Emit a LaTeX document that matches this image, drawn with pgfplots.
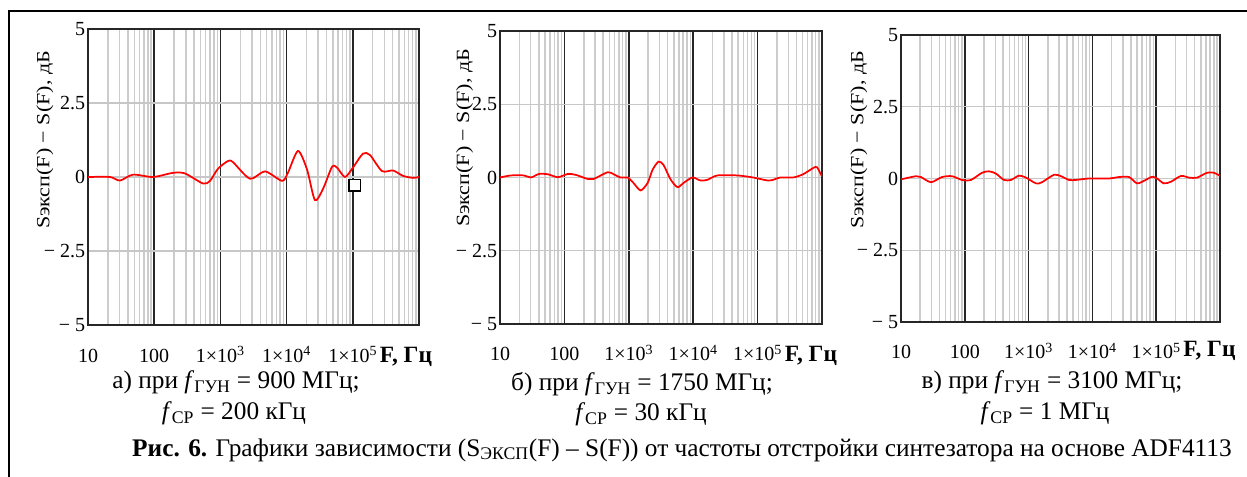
\documentclass[border=0pt]{standalone}
\usepackage{fontspec}
\setmainfont{Liberation Serif}
\usepackage{graphicx}
\usepackage{pgfplots}
\pgfplotsset{compat=1.18}
\pgfplotsset{
 mcadaxis/.style={
  scale only axis, xmin=10, xmax=1e6, ymin=-5, ymax=5,
  anchor=south west,
  xtick={10,100,1000,10000,100000},
  xticklabels={10,100,1×10\textsuperscript{3},1×10\textsuperscript{4},1×10\textsuperscript{5}},
  minor xtick={20,30,40,50,60,70,80,90,200,300,400,500,600,700,800,900,2000,3000,4000,5000,6000,7000,8000,9000,20000,30000,40000,50000,60000,70000,80000,90000,200000,300000,400000,500000,600000,700000,800000,900000},
  ytick={-5,-2.5,0,2.5,5},
  yticklabels={− 5,− 2.5,0,2.5,5},
  xmajorgrids, xminorgrids, ymajorgrids,
  major x grid style={black!85, line width=1.1pt},
  minor x grid style={black!20, line width=1.1pt},
  major y grid style={black!22, line width=1.1pt},
  axis line style={black!85, line width=1.1pt},
  major tick length=0pt, minor tick length=0pt,
  tick label style={font=\fontsize{15}{18}\selectfont},
  yticklabel style={inner sep=2pt},
  xticklabel style={anchor=base, yshift=-27.75pt},
 },
}
\tikzset{redcurve/.style={red, line width=1.3pt, smooth, tension=0.45}}
\begin{document}
\begin{tikzpicture}
\path[use as bounding box] (0pt,0pt) rectangle (935.25pt,-357.75pt);
\draw[black, line width=1.5pt] (6.75pt,-360pt) -- (6.75pt,-8.25pt) -- (937pt,-8.25pt);

% ---------- plot a
\begin{semilogxaxis}[mcadaxis, at={(66pt,-243.75pt)}, width=248.25pt, height=222pt]
\addplot[redcurve] coordinates {(10,0) (21.5,0) (30.4,-0.12) (47.9,0.08) (96,0) (192,0.14) (292,0.12) (546,-0.22) (697,-0.13) (920,0.28) (1303,0.54) (1550,0.5) (2800,-0.06) (4720,0.19) (8530,-0.13) (10500,0.15) (14860,0.88) (20300,0.26) (26800,-0.78) (35500,-0.4) (48500,0.34) (57700,0.32) (76200,0) (100700,0.32) (142600,0.79) (182000,0.74) (276000,0.2) (405000,0.22) (573000,0.04) (811000,-0.03) (1000000,0)};
\addplot[only marks, mark=square*, mark options={fill=white, draw=black, line width=1pt}, mark size=4.3pt] coordinates {(107000,-0.28)};
\end{semilogxaxis}

% ---------- plot b
\begin{semilogxaxis}[mcadaxis, at={(375pt,-243pt)}, width=241.5pt, height=219.75pt]
\addplot[redcurve] coordinates {(10,0) (14.8,0.07) (23.5,0.07) (30.2,0) (40.2,0.12) (55.3,0.11) (79.1,0.01) (113,0.12) (150,0.09) (230,-0.05) (285,-0.05) (470,0.18) (582,0.11) (747,0) (957,0) (1186,-0.19) (1523,-0.44) (1955,-0.19) (2336,0.26) (2890,0.54) (3456,0.43) (4440,-0.06) (5690,-0.33) (7050,-0.19) (9720,0) (12920,-0.1) (16600,-0.08) (23700,0.07) (48300,0.07) (85500,0) (141000,-0.1) (174000,-0.08) (224000,0) (356000,0) (508000,0.11) (726000,0.32) (837000,0.35) (1000000,0.03)};
\end{semilogxaxis}

% ---------- plot c
\begin{semilogxaxis}[mcadaxis, at={(675.75pt,-241.5pt)}, width=239.25pt, height=215.25pt]
\addplot[redcurve] coordinates {(10,-0.03) (17.2,0.08) (20.6,0.05) (29.5,-0.13) (43.9,0.05) (63,0.08) (90.4,-0.05) (125,-0.05) (186,0.2) (240,0.25) (308,0.17) (411,-0.05) (530,-0.05) (707,0.1) (911,0.03) (1306,-0.17) (1622,-0.13) (2500,0.13) (3220,0.08) (4300,-0.05) (5530,-0.05) (8850,0) (18200,0) (26100,0.05) (37500,0.05) (50000,-0.17) (64400,-0.08) (86000,0.06) (103000,0) (132000,-0.17) (171000,-0.11) (245000,0.09) (327000,0.03) (436000,0.03) (625000,0.2) (805000,0.2) (964000,0.11) (1000000,0.08)};
\end{semilogxaxis}

% y labels
\foreach \xx/\yy in {33.75pt/-105pt, 348.5pt/-103.5pt, 644.25pt/-105pt}
  \node[rotate=90, inner sep=0pt, font=\fontsize{14}{16}\selectfont] at (\xx,\yy) {\scalebox{1.18}[1]{Sэксп(F) − S(F), дБ}};

% x axis names
\node[anchor=base, inner sep=0pt, font=\fontsize{17.5}{20}\selectfont\bfseries] at (304.5pt,-272.25pt) {F, Гц};
\node[anchor=base, inner sep=0pt, font=\fontsize{17.5}{20}\selectfont\bfseries] at (608.25pt,-271.5pt) {F, Гц};
\node[anchor=base, inner sep=0pt, font=\fontsize{17.5}{20}\selectfont\bfseries] at (907.1pt,-267.75pt) {F, Гц};

% captions
\begin{scope}[every node/.style={anchor=base, inner sep=0pt, font=\fontsize{19}{22}\selectfont}]
\node at (177pt,-291.75pt) {а) при \textit{f}\textsubscript{ГУН} = 900 МГц;};
\node at (175.5pt,-315pt) {\textit{f}\textsubscript{СР} = 200 кГц};
\node at (481.5pt,-293.25pt) {б) при \textit{f}\textsubscript{ГУН} = 1750 МГц;};
\node at (480.75pt,-315.75pt) {\textit{f}\textsubscript{СР} = 30 кГц};
\node at (789pt,-291.75pt) {в) при \textit{f}\textsubscript{ГУН} = 3100 МГц;};
\node at (783.75pt,-315pt) {\textit{f}\textsubscript{СР} = 1 МГц};
\node at (511.5pt,-342pt) {\textbf{Рис. 6.} Графики зависимости (S\textsubscript{ЭКСП}(F) – S(F)) от частоты отстройки синтезатора на основе ADF4113};
\end{scope}
\end{tikzpicture}
\end{document}
